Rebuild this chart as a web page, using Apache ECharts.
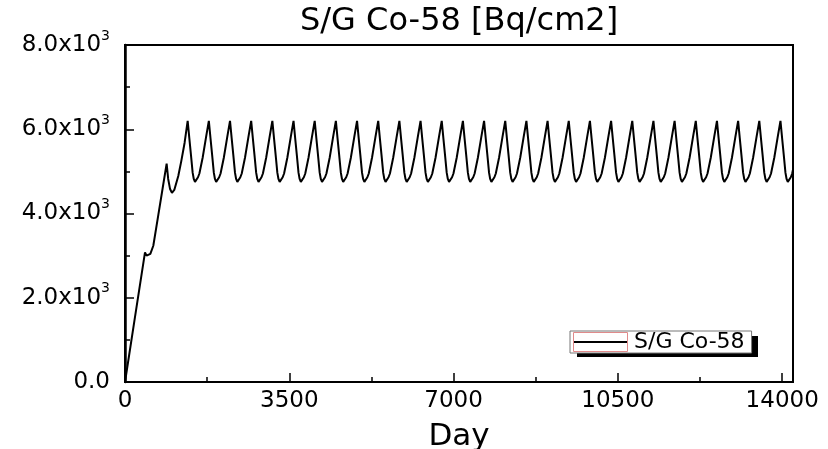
<!DOCTYPE html>
<html>
<head>
<meta charset="utf-8">
<script src="https://cdn.jsdelivr.net/npm/echarts@6/dist/echarts.min.js"></script>
<style>
html,body{margin:0;padding:0;background:#fff;}
#chart{width:828px;height:449px;}
</style>
</head>
<body>
<div id="chart"></div>
<script>
// ---- data ----
const titleText = 'S/G Co-58 [Bq/cm2]';
const seriesName = 'S/G Co-58';
const xTicks = [0, 3500, 7000, 10500, 14000];
const yTicks = [0, 2000, 4000, 6000, 8000];
const yTickLabels = ['0.0', '2.0x10', '4.0x10', '6.0x10', '8.0x10'];

// start-up ramp, then one row per cycle (peak, fall, minimum, rise)
const day = [
  0, 210, 426, 460, 497, 540, 603, 710, 802, 887, 920, 960, 1000, 1050, 1135, 1200, 1270,
  1335, 1370, 1405, 1441, 1465, 1491, 1520, 1555, 1585, 1655, 1725,
  1786, 1821, 1856, 1892, 1916, 1942, 1971, 2006, 2036, 2106, 2176,
  2237, 2272, 2307, 2343, 2367, 2393, 2422, 2457, 2487, 2557, 2627,
  2688, 2723, 2758, 2794, 2818, 2844, 2873, 2908, 2938, 3008, 3078,
  3139, 3174, 3209, 3245, 3269, 3295, 3324, 3359, 3389, 3459, 3529,
  3590, 3625, 3660, 3696, 3720, 3746, 3775, 3810, 3840, 3910, 3980,
  4041, 4076, 4111, 4147, 4171, 4197, 4226, 4261, 4291, 4361, 4431,
  4492, 4527, 4562, 4598, 4622, 4648, 4677, 4712, 4742, 4812, 4882,
  4943, 4978, 5013, 5049, 5073, 5099, 5128, 5163, 5193, 5263, 5333,
  5394, 5429, 5464, 5500, 5524, 5550, 5579, 5614, 5644, 5714, 5784,
  5845, 5880, 5915, 5951, 5975, 6001, 6030, 6065, 6095, 6165, 6235,
  6296, 6331, 6366, 6402, 6426, 6452, 6481, 6516, 6546, 6616, 6686,
  6747, 6782, 6817, 6853, 6877, 6903, 6932, 6967, 6997, 7067, 7137,
  7198, 7233, 7268, 7304, 7328, 7354, 7383, 7418, 7448, 7518, 7588,
  7649, 7684, 7719, 7755, 7779, 7805, 7834, 7869, 7899, 7969, 8039,
  8100, 8135, 8170, 8206, 8230, 8256, 8285, 8320, 8350, 8420, 8490,
  8551, 8586, 8621, 8657, 8681, 8707, 8736, 8771, 8801, 8871, 8941,
  9002, 9037, 9072, 9108, 9132, 9158, 9187, 9222, 9252, 9322, 9392,
  9453, 9488, 9523, 9559, 9583, 9609, 9638, 9673, 9703, 9773, 9843,
  9904, 9939, 9974, 10010, 10034, 10060, 10089, 10124, 10154, 10224, 10294,
  10355, 10390, 10425, 10461, 10485, 10511, 10540, 10575, 10605, 10675, 10745,
  10806, 10841, 10876, 10912, 10936, 10962, 10991, 11026, 11056, 11126, 11196,
  11257, 11292, 11327, 11363, 11387, 11413, 11442, 11477, 11507, 11577, 11647,
  11708, 11743, 11778, 11814, 11838, 11864, 11893, 11928, 11958, 12028, 12098,
  12159, 12194, 12229, 12265, 12289, 12315, 12344, 12379, 12409, 12479, 12549,
  12610, 12645, 12680, 12716, 12740, 12766, 12795, 12830, 12860, 12930, 13000,
  13061, 13096, 13131, 13167, 13191, 13217, 13246, 13281, 13311, 13381, 13451,
  13512, 13547, 13582, 13618, 13642, 13668, 13697, 13732, 13762, 13832, 13902,
  13963, 13998, 14033, 14069, 14093, 14119, 14148, 14183, 14213, 14283
];
const co58 = [
  0, 1520, 3077, 3000, 2975, 3040, 3235, 3969, 4600, 5183, 4820, 4580, 4490, 4560, 4890, 5250, 5680,
  6200, 5790, 5390, 4970, 4820, 4750, 4780, 4860, 4950, 5330, 5800,
  6200, 5790, 5390, 4970, 4820, 4750, 4780, 4860, 4950, 5330, 5800,
  6200, 5790, 5390, 4970, 4820, 4750, 4780, 4860, 4950, 5330, 5800,
  6200, 5790, 5390, 4970, 4820, 4750, 4780, 4860, 4950, 5330, 5800,
  6200, 5790, 5390, 4970, 4820, 4750, 4780, 4860, 4950, 5330, 5800,
  6200, 5790, 5390, 4970, 4820, 4750, 4780, 4860, 4950, 5330, 5800,
  6200, 5790, 5390, 4970, 4820, 4750, 4780, 4860, 4950, 5330, 5800,
  6200, 5790, 5390, 4970, 4820, 4750, 4780, 4860, 4950, 5330, 5800,
  6200, 5790, 5390, 4970, 4820, 4750, 4780, 4860, 4950, 5330, 5800,
  6200, 5790, 5390, 4970, 4820, 4750, 4780, 4860, 4950, 5330, 5800,
  6200, 5790, 5390, 4970, 4820, 4750, 4780, 4860, 4950, 5330, 5800,
  6200, 5790, 5390, 4970, 4820, 4750, 4780, 4860, 4950, 5330, 5800,
  6200, 5790, 5390, 4970, 4820, 4750, 4780, 4860, 4950, 5330, 5800,
  6200, 5790, 5390, 4970, 4820, 4750, 4780, 4860, 4950, 5330, 5800,
  6200, 5790, 5390, 4970, 4820, 4750, 4780, 4860, 4950, 5330, 5800,
  6200, 5790, 5390, 4970, 4820, 4750, 4780, 4860, 4950, 5330, 5800,
  6200, 5790, 5390, 4970, 4820, 4750, 4780, 4860, 4950, 5330, 5800,
  6200, 5790, 5390, 4970, 4820, 4750, 4780, 4860, 4950, 5330, 5800,
  6200, 5790, 5390, 4970, 4820, 4750, 4780, 4860, 4950, 5330, 5800,
  6200, 5790, 5390, 4970, 4820, 4750, 4780, 4860, 4950, 5330, 5800,
  6200, 5790, 5390, 4970, 4820, 4750, 4780, 4860, 4950, 5330, 5800,
  6200, 5790, 5390, 4970, 4820, 4750, 4780, 4860, 4950, 5330, 5800,
  6200, 5790, 5390, 4970, 4820, 4750, 4780, 4860, 4950, 5330, 5800,
  6200, 5790, 5390, 4970, 4820, 4750, 4780, 4860, 4950, 5330, 5800,
  6200, 5790, 5390, 4970, 4820, 4750, 4780, 4860, 4950, 5330, 5800,
  6200, 5790, 5390, 4970, 4820, 4750, 4780, 4860, 4950, 5330, 5800,
  6200, 5790, 5390, 4970, 4820, 4750, 4780, 4860, 4950, 5330, 5800,
  6200, 5790, 5390, 4970, 4820, 4750, 4780, 4860, 4950, 5330, 5800,
  6200, 5790, 5390, 4970, 4820, 4750, 4780, 4860, 4950, 5330
];

const X_MAX = 14230;
const FONT = 'DejaVu Sans';

const chart = echarts.init(document.getElementById('chart'), null, {renderer: 'canvas'});
const points = day.map((d, i) => [d, co58[i]]);

chart.setOption({
  backgroundColor: '#ffffff',
  animation: false,
  title: {
    text: titleText,
    left: 300,
    top: 6,
    padding: 0,
    textStyle: {fontFamily: FONT, fontSize: 32, fontWeight: 'normal', color: '#000'}
  },
  legend: {
    data: [seriesName],
    left: 570,
    top: 331,
    orient: 'horizontal',
    padding: [0, 7, 0, 3],
    icon: 'rect',
    itemWidth: 54,
    itemHeight: 2,
    itemGap: 0,
    backgroundColor: '#ffffff',
    borderColor: '#777',
    borderWidth: 1,
    textStyle: {fontFamily: FONT, fontSize: 22, lineHeight: 19, color: '#000', padding: [0, 0, 0, 2]}
  },
  graphic: [
    // drop shadow behind the legend box
    {type: 'rect', z: 3, silent: true, shape: {x: 577, y: 336, width: 181, height: 21}, style: {fill: '#000'}},
    // thin frame round the legend sample line
    {type: 'rect', z: 6, silent: true, shape: {x: 573.5, y: 332.5, width: 54, height: 19}, style: {fill: 'none', stroke: '#e08a8a', lineWidth: 1}}
  ],
  grid: {
    left: 125, top: 45, right: 35, bottom: 67,
    outerBoundsMode: 'none',
    containLabel: false,
    show: true, borderColor: '#000', borderWidth: 2, backgroundColor: 'transparent'
  },
  xAxis: [{
    type: 'value',
    min: 0, max: X_MAX, interval: 3500,
    position: 'bottom',
    name: 'Day',
    nameLocation: 'middle',
    nameGap: 39,
    nameTextStyle: {fontFamily: FONT, fontSize: 31, color: '#000'},
    axisLine: {show: true, lineStyle: {color: '#000', width: 2}},
    axisTick: {show: true, inside: true, length: 9, lineStyle: {color: '#000', width: 1.5}},
    axisLabel: {
      show: true, margin: 8, showMaxLabel: false,
      fontFamily: FONT, fontSize: 23, color: '#000',
      formatter: v => (xTicks.indexOf(v) >= 0 ? String(v) : '')
    },
    splitLine: {show: false}
  }, {
    type: 'value',
    min: 0, max: X_MAX, interval: 1750,
    position: 'bottom',
    axisLine: {show: false},
    axisTick: {show: true, inside: true, length: 5, lineStyle: {color: '#000', width: 1.5}},
    axisLabel: {show: false},
    splitLine: {show: false}
  }],
  yAxis: {
    type: 'value',
    min: 0, max: 8000, interval: 2000,
    axisLine: {show: true, lineStyle: {color: '#000', width: 2.5}},
    axisTick: {show: true, inside: true, length: 9, lineStyle: {color: '#000', width: 1.5}},
    minorTick: {show: true, splitNumber: 2, length: 5, lineStyle: {color: '#000', width: 1.5}},
    splitLine: {show: false},
    minorSplitLine: {show: false},
    axisLabel: {
      margin: 15,
      formatter: v => {
        const i = yTicks.indexOf(v);
        if (i < 0) return '';
        return v === 0 ? '{b|' + yTickLabels[i] + '}' : '{b|' + yTickLabels[i] + '}{s|3}';
      },
      rich: {
        b: {fontFamily: FONT, fontSize: 23, color: '#000', lineHeight: 32},
        s: {fontFamily: FONT, fontSize: 14, color: '#000', lineHeight: 15, verticalAlign: 'top'}
      }
    }
  },
  series: [{
    name: seriesName,
    type: 'line',
    xAxisIndex: 0,
    data: points,
    showSymbol: false,
    symbol: 'none',
    smooth: false,
    clip: true,
    lineStyle: {color: '#000', width: 2},
    itemStyle: {color: '#000'}
  }]
});
</script>
</body>
</html>
